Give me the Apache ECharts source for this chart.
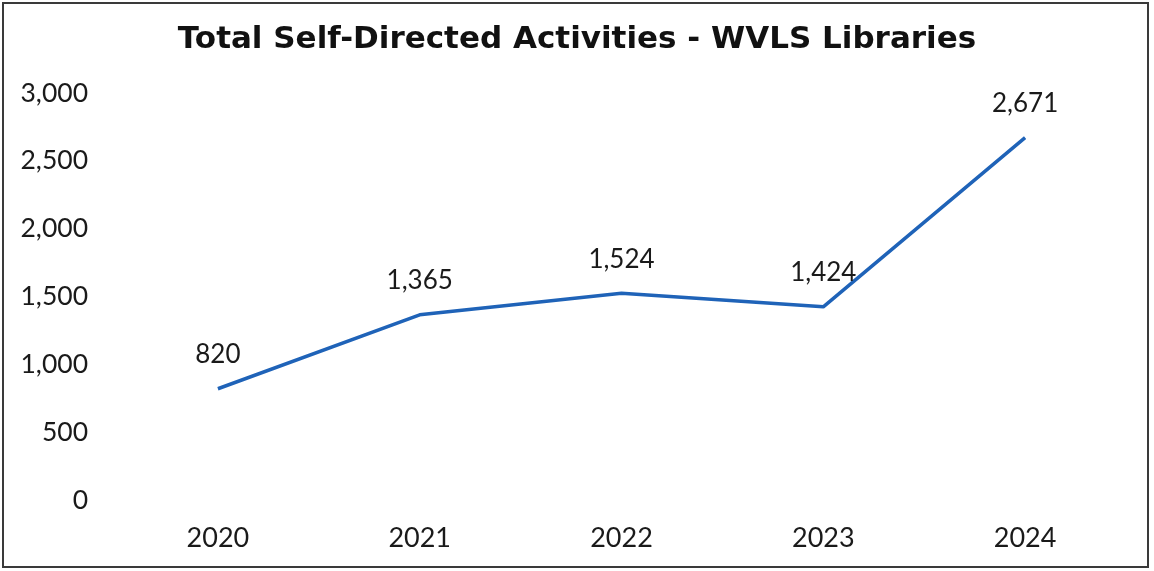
<!DOCTYPE html>
<html>
<head>
<meta charset="utf-8">
<script src="https://cdn.jsdelivr.net/npm/echarts@6/dist/echarts.min.js"></script>
<style>
  html, body { margin: 0; padding: 0; background: #fff; }
  #chart { width: 1154px; height: 571px; }
</style>
</head>
<body>
<div id="chart"></div>
<script>
// Yearly totals of self-directed activities across WVLS libraries
const years = ['2020', '2021', '2022', '2023', '2024'];
const activityTotals = [820, 1365, 1524, 1424, 2671];
const yTicks = { min: 0, max: 3000, step: 500 };

const fmt = v => Number(v).toLocaleString('en-US');
const textFont = 'Lato, "Open Sans", sans-serif';

const chart = echarts.init(document.getElementById('chart'));
chart.setOption({
  backgroundColor: '#ffffff',
  animation: false,
  title: {
    text: 'Total Self-Directed Activities - WVLS Libraries',
    left: 'center',
    top: 19,
    textStyle: {
      fontFamily: '"DejaVu Sans", Verdana, sans-serif',
      fontWeight: 'bold',
      fontSize: 31,
      color: '#111'
    }
  },
  graphic: [{
    type: 'rect',
    shape: { x: 3, y: 3, width: 1145, height: 564 },
    style: { fill: 'none', stroke: '#3a3a3a', lineWidth: 2 },
    silent: true
  }],
  grid: { left: 117, right: 28, top: 93, bottom: 71 },
  xAxis: {
    type: 'category',
    data: years,
    boundaryGap: true,
    axisLine: { show: false },
    axisTick: { show: false },
    axisLabel: {
      margin: 25,
      fontFamily: textFont,
      fontSize: 27,
      color: '#1a1a1a'
    },
    splitLine: { show: false }
  },
  yAxis: {
    type: 'value',
    min: yTicks.min,
    max: yTicks.max,
    interval: yTicks.step,
    axisLine: { show: false },
    axisTick: { show: false },
    splitLine: { show: false },
    axisLabel: {
      margin: 29,
      fontFamily: textFont,
      fontSize: 26.5,
      color: '#1a1a1a',
      formatter: fmt
    }
  },
  series: [{
    type: 'line',
    data: activityTotals,
    showSymbol: true,
    symbol: 'circle',
    symbolSize: 2,
    itemStyle: { color: 'rgba(31,99,184,0)' },
    lineStyle: { color: '#1f63b8', width: 3.5 },
    label: {
      show: true,
      position: 'top',
      distance: 20,
      fontFamily: textFont,
      fontSize: 26,
      color: '#1a1a1a',
      formatter: p => fmt(p.value)
    }
  }]
});
</script>
</body>
</html>
